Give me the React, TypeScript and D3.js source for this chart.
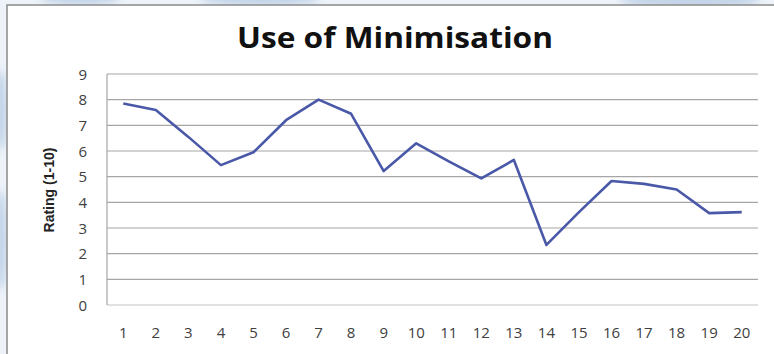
import React from "react";
import * as d3 from "d3";

const categories = ["1","2","3","4","5","6","7","8","9","10","11","12","13","14","15","16","17","18","19","20"];
const ratings = [7.85, 7.6, 6.55, 5.45, 5.95, 7.2, 8.0, 7.45, 5.22, 6.3, 5.6, 4.93, 5.65, 2.34, 3.62, 4.83, 4.72, 4.5, 3.58, 3.62];
const yTicks = [0, 1, 2, 3, 4, 5, 6, 7, 8, 9];
const title = "Use of Minimisation";
const yLabel = "Rating (1-10)";

const W = 774;
const H = 354;
const plot = { left: 107, right: 758, top: 74, bottom: 305 };

export default function App() {
  const x = d3.scaleBand<string>().domain(categories).range([plot.left, plot.right]);
  const y = d3.scaleLinear().domain([0, 9]).range([plot.bottom, plot.top]);
  const line = d3
    .line<number>()
    .x((_, i) => (x(categories[i]) as number) + x.bandwidth() / 2)
    .y((d) => y(d));

  const tickFont = "'Open Sans', sans-serif";

  return (
    <svg
      width={W}
      height={H}
      style={{ position: "absolute", left: 0, top: 0, display: "block" }}
    >
      <defs>
        <filter id="soft" x="-20%" y="-20%" width="140%" height="140%">
          <feGaussianBlur stdDeviation="4" />
        </filter>
      </defs>
      {/* pale backdrop behind the chart frame */}
      <rect x={0} y={0} width={W} height={H} fill="#eef3f9" />
      <g filter="url(#soft)" fill="#b9cde4" opacity={0.8}>
        <ellipse cx={80} cy={-4} rx={40} ry={10} />
        <ellipse cx={260} cy={-2} rx={60} ry={9} />
        <ellipse cx={690} cy={0} rx={70} ry={10} />
        <ellipse cx={0} cy={110} rx={8} ry={40} />
        <ellipse cx={0} cy={240} rx={8} ry={50} />
      </g>
      {/* chart frame */}
      <rect x={7} y={5} width={W + 10} height={H + 10} fill="#ffffff" stroke="#8a8a8a" strokeWidth={1.5} />

      <text
        x={395}
        y={48}
        textAnchor="middle"
        fontFamily="'Open Sans', sans-serif"
        fontWeight={700}
        fontSize={28}
        textLength={316}
        lengthAdjust="spacingAndGlyphs"
        fill="#111"
      >
        {title}
      </text>

      {/* horizontal gridlines */}
      {yTicks.map((t) => (
        <line
          key={t}
          x1={plot.left}
          x2={plot.right}
          y1={y(t)}
          y2={y(t)}
          stroke={t === 0 ? "#c4c4c4" : "#a6a6a6"}
          strokeWidth={1.2}
        />
      ))}
      <line x1={plot.left} x2={plot.left} y1={plot.top} y2={plot.bottom} stroke="#a6a6a6" strokeWidth={1.2} />

      {/* y tick labels */}
      {yTicks.map((t) => (
        <text
          key={"yl" + t}
          x={87}
          y={y(t) + 5.5}
          textAnchor="end"
          fontFamily={tickFont}
          fontSize={15}
          fill="#404040"
        >
          {t}
        </text>
      ))}

      {/* x tick labels */}
      {categories.map((c) => (
        <text
          key={"xl" + c}
          x={(x(c) as number) + x.bandwidth() / 2}
          y={337.5}
          textAnchor="middle"
          fontFamily={tickFont}
          fontSize={15}
          fill="#404040"
        >
          {c}
        </text>
      ))}

      <text
        transform={`translate(54, 190) rotate(-90)`}
        textAnchor="middle"
        fontFamily="'Liberation Sans Narrow', 'Arial Narrow', sans-serif"
        fontWeight={700}
        fontSize={15}
        textLength={85}
        lengthAdjust="spacingAndGlyphs"
        fill="#222"
      >
        {yLabel}
      </text>

      <path d={line(ratings) ?? ""} fill="none" stroke="#4a58a8" strokeWidth={2.6} strokeLinejoin="round" />
    </svg>
  );
}
